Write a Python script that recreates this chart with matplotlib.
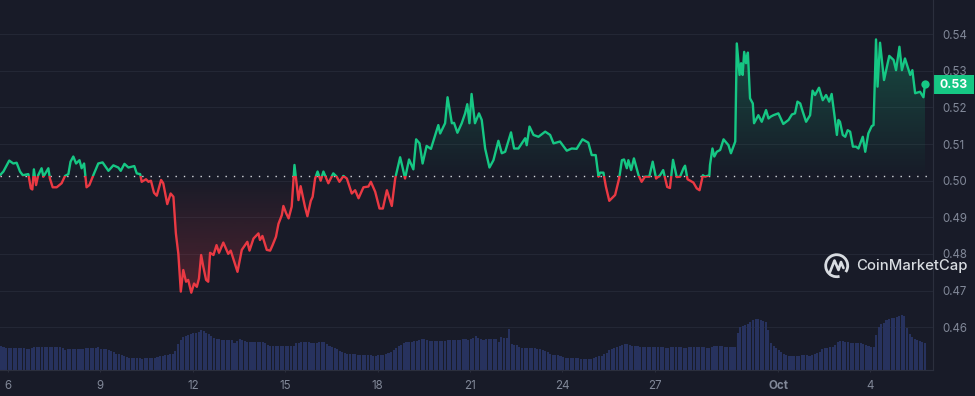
import numpy as np
import matplotlib
matplotlib.use("Agg")
import matplotlib.pyplot as plt
from matplotlib.patches import Rectangle, Arc

plt.rcParams['font.family'] = ['Inter', 'DejaVu Sans']

# ---------- data (day of the month counted from 1 Sep; 31 = 1 Oct) ----------
price_days = [
 5.74,5.85,6.04,6.17,6.28,6.39,6.48,6.66,6.74,6.79,6.84,6.91,6.98,7.09,7.15,7.31,7.36,7.45,7.58,7.74,
 7.85,7.96,8.03,8.12,8.21,8.32,8.39,8.47,8.55,8.64,8.77,8.93,9.07,9.26,9.42,9.58,9.66,9.78,9.91,10.10,
 10.18,10.29,10.34,10.48,10.56,10.64,10.74,10.83,10.97,11.04,11.17,11.28,11.37,11.45,11.53,11.61,11.69,11.78,11.85,11.95,
 12.04,12.13,12.20,12.27,12.34,12.43,12.50,12.56,12.67,12.77,12.85,12.99,13.15,13.23,13.45,13.59,13.77,13.84,13.97,14.13,
 14.18,14.26,14.40,14.51,14.59,14.70,14.78,14.89,14.94,15.03,15.11,15.21,15.30,15.43,15.50,15.64,15.72,15.83,15.89,15.97,
 16.05,16.15,16.24,16.40,
 16.56,16.67,16.76,16.89,17.00,17.16,17.27,17.38,17.54,17.70,17.78,17.92,18.06,18.17,18.30,18.46,18.57,18.73,18.81,18.89,
 19.02,19.16,19.25,19.36,19.46,19.59,19.73,19.97,20.03,20.19,20.27,20.41,20.48,20.59,20.73,20.84,20.91,20.98,21.05,21.16,
 21.29,21.38,21.49,21.63,21.76,21.92,22.03,22.14,22.33,22.43,22.57,22.79,22.84,22.93,23.06,23.22,23.44,23.60,23.71,23.92,
 24.14,24.30,24.46,24.65,24.84,24.95,25.08,25.17,25.22,25.33,25.41,25.52,25.71,25.84,25.93,26.00,26.09,26.14,26.23,26.32,
 26.47,26.57,26.68,26.82,26.93,27.04,27.17,27.27,27.40,27.49,27.59,27.71,
 27.82,27.93,27.98,28.06,28.25,28.36,28.45,28.56,28.63,28.77,28.79,28.87,28.93,29.01,29.12,29.23,29.39,29.47,29.61,29.66,
 29.75,29.80,29.85,29.90,29.96,30.02,30.09,30.18,30.22,30.36,30.47,30.61,30.69,30.76,30.85,31.01,31.17,31.34,31.45,31.55,
 31.63,31.72,31.80,31.91,32.04,32.12,32.20,32.33,32.45,32.56,32.66,32.74,32.83,32.91,32.96,33.01,33.10,33.18,33.26,33.34,
 33.43,33.53,33.61,33.75,33.83,33.93,34.04,34.10,34.18,34.23,34.31,34.44,34.51,34.61,34.75,34.83,34.94,35.02,35.12,35.29,
 35.36,35.45,35.61,35.72,35.77]
price_values = [
 .5015,.5025,.5055,.5047,.5049,.5025,.5015,.5018,.4979,.4976,.5031,.4988,.5015,.5034,.5011,.5034,.5006,.4982,.4982,.4993,
 .5013,.5018,.5052,.5066,.5047,.5056,.5034,.5047,.4982,.4988,.5015,.5047,.5050,.5027,.5042,.5036,.5027,.5046,.5036,.5040,
 .5020,.5018,.4997,.5004,.4997,.5000,.4967,.4959,.5002,.4993,.4936,.4965,.4956,.4856,.4800,.4697,.4756,.4724,.4729,.4694,
 .4719,.4710,.4733,.4797,.4765,.4729,.4724,.4803,.4797,.4824,.4803,.4831,.4800,.4809,.4751,.4811,.4833,.4809,.4842,.4856,
 .4838,.4849,.4811,.4809,.4824,.4847,.4882,.4906,.4931,.4911,.4897,.4929,.5043,.4947,.4985,.4929,.4903,.4945,.4956,.5006,
 .5025,.5000,.5025,.4993,
 .5020,.5011,.4997,.5013,.5006,.4965,.4974,.4952,.4982,.4984,.4997,.4970,.4924,.4924,.4974,.4931,.5006,.5064,.5036,.5006,
 .5058,.5031,.5113,.5102,.5047,.5095,.5087,.5152,.5129,.5157,.5228,.5157,.5158,.5131,.5157,.5184,.5209,.5157,.5237,.5157,
 .5184,.5166,.5088,.5036,.5056,.5109,.5075,.5079,.5132,.5088,.5088,.5116,.5097,.5148,.5125,.5120,.5134,.5125,.5102,.5107,
 .5082,.5088,.5087,.5113,.5104,.5070,.5070,.5011,.5022,.5022,.4984,.4945,.4961,.5006,.5056,.5058,.5034,.5056,.5029,.5061,
 .5015,.4997,.5011,.5011,.5052,.5006,.5015,.5029,.4983,.4980,.5057,.5010,
 .5011,.5034,.5041,.5004,.4995,.4979,.4974,.5015,.5011,.5015,.5043,.5088,.5066,.5079,.5084,.5113,.5097,.5075,.5107,.5375,
 .5289,.5321,.5289,.5352,.5321,.5350,.5225,.5211,.5157,.5179,.5161,.5193,.5170,.5175,.5179,.5184,.5155,.5166,.5181,.5184,
 .5216,.5211,.5189,.5161,.5179,.5246,.5234,.5254,.5220,.5234,.5216,.5237,.5179,.5125,.5166,.5161,.5125,.5120,.5138,.5134,
 .5093,.5093,.5088,.5120,.5079,.5129,.5149,.5152,.5386,.5257,.5377,.5275,.5302,.5341,.5330,.5302,.5366,.5302,.5334,.5289,
 .5302,.5239,.5243,.5228,.5264]
baseline_price = 0.5013

volume_part1 = [
 24.3,23.5,22.3,22.3,22.5,22.3,22.3,22.5,22.3,21.8,21.5,21.5,
 22,23.3,23.3,23.3,23.3,23.3,23.3,23.3,23.3,23.3,23.3,23.3,
 22.3,20.5,20.8,21.3,21.3,21.3,21.3,21.3,21.3,22.3,22.3,22.3,
 22.3,22.3,23,21.3,21.3,21,20.3,19.5,18.5,16.5,16,15,
 14.5,13.5,12.5,12.5,12.3,12,11.7,11.5,12,12,12.2,12.2,
 12.2,13,14,14.5,15,15,16,16.5,19,26,30,33,
 34,35,36.5,37,37.3,37.8,40,39,37.5,36,34,32.5,
 31.5,31,30.3,30,30,30,29.7,27.5,29,31,30,28.7,
 28.5,28.3,28,27.8,27.7,27.7,28,27.3,25,24,23.7,23.7,
 23.7,24.2,23.7,23.7,23.7,23.7,24,27,27.5,28,28.3,28.3,
 28,27.5,27.5,27.3,27.7,28.3,28.3,26.5,24,23,22,21,
 19.3,18.5,17.5,16.3,16,16,15.7,15.5,15.5,15.5,15.3,15.3,
 14.7,14.3,14.3,15,15,15.5,16,17,18,20,22,24,
 25.5,27,27.7,28,28.5,29,29.5,30,31,31,30.5,29.5,
 29.3,29.3,29.3,29.3,29.3,29.3,30,30.3,30.5,30.5,30.5,30.5,
 31,31,30.5,31.5,32.5,33.7,32,31,30.5,30.8,31]
volume_part2 = [
 31,31,31,28.5,33.3,32.5,32.5,41,26,25.5,25,23.5,22,22,21.7,22,21.7,21.7,21.5,21.3,
 20,19,18,16.5,15.5,15,14.7,14,13,12.3,12,12,12,12,12,11,11,11,11,11,
 12,13,14,14.5,15.7,17.5,20,21,22,23,24,25,25.7,25.7,25,24.5,24.5,24.5,23,22.7,
 22.7,22.7,22.7,22.7,22.7,22.7,22.7,22.7,22.3,22.5,23,23,22.7,22.7,22.7,22.5,22.5,23,23.3,23.3,
 23.5,23.3,23.3,23,22.5,22,23,24,24,24,24,23.5,23,22.7,22.7,22.7,36.7,43,44,45,
 46,48.5,50.5,51,51,50.5,49,48,40,27,24.5,22,20,18.5,16.5,15.5,14.5,14,14,14,
 14.5,15,15,15,14,15,16.5,17.5,18.5,21,22,22.5,23,23.5,25,28.5,29,29,28,27.7,
 27.5,26.7,26.7,27,27,26.5,25.5,24,23.5,23,35,43,46,47.5,50,50.7,51.7,51.7,53,54.5,
 55,54,41.7,36,33,31,30,29.5,28.5,27.3]
volume_values = volume_part1 + volume_part2
volume_first_day = 5.77

x_tick_days = [6, 9, 12, 15, 18, 21, 24, 27, 31, 34]
x_tick_labels = ['6', '9', '12', '15', '18', '21', '24', '27', 'Oct', '4']
y_ticks = [0.46, 0.47, 0.48, 0.49, 0.50, 0.51, 0.52, 0.53, 0.54]
last_label = '0.53'

# ---------- style ----------
W, H = 975, 396
BG = '#181b28'; GRID = '#232735'; AXIS = '#2b2f3d'; TXT = '#818898'
GREEN = '#16c784'; RED = '#ea3943'; BAR = '#27325e'; MARK = '#d8dce1'
PX_R, PX_B = 933, 370

fig = plt.figure(figsize=(W/100, H/100), dpi=100, facecolor=BG)
pos = [0, 1 - PX_B/H, PX_R/W, PX_B/H]

axv = fig.add_axes(pos, facecolor=BG, zorder=1)
ax = fig.add_axes(pos, facecolor='none', zorder=2)
xlim = (5.740, 36.03)
ylim = (0.44828, 0.54937)
for a in (ax, axv):
    a.set_xlim(*xlim)
    for s in a.spines.values():
        s.set_visible(False)
axv.set_ylim(0, PX_B)
ax.set_ylim(*ylim)

for t in y_ticks:
    y = (t - ylim[0]) / (ylim[1] - ylim[0]) * PX_B
    axv.axhline(y, color=GRID, lw=0.8, zorder=0)

vol_x = volume_first_day + np.arange(len(volume_values)) / 12
axv.bar(vol_x, volume_values, width=1/12*0.8, color=BAR, zorder=2, linewidth=0)
axv.set_yticks([]); axv.set_xticks([])

days = np.array(price_days); vals = np.array(price_values)
poly = ax.fill_between(days, vals, baseline_price, color='none', linewidth=0)
grid_y = np.linspace(ylim[1], ylim[0], 400)
rgba = np.zeros((400, 1, 4))
g = matplotlib.colors.to_rgb(GREEN); r = matplotlib.colors.to_rgb(RED)
up = grid_y >= baseline_price
rgba[up, 0, :3] = g; rgba[~up, 0, :3] = r
rgba[up, 0, 3] = np.clip((grid_y[up] - baseline_price) / 0.037, 0, 1) * 0.28
rgba[~up, 0, 3] = np.clip((baseline_price - grid_y[~up]) / 0.031, 0, 1) * 0.25
im = ax.imshow(rgba, extent=(*xlim, *ylim), aspect='auto', origin='upper',
               interpolation='bilinear', zorder=1)
im.set_clip_path(poly.get_paths()[0], transform=ax.transData)
ax.set_xlim(*xlim); ax.set_ylim(*ylim)

ax.axhline(baseline_price, color='#d5d8de', lw=1.0, dashes=(1.0, 5.0), zorder=3)

for col, lo, hi in ((GREEN, baseline_price, ylim[1]), (RED, ylim[0], baseline_price)):
    ln, = ax.plot(days, vals, color=col, lw=1.7, solid_joinstyle='round', zorder=4)
    ln.set_clip_path(Rectangle((xlim[0], lo), xlim[1]-xlim[0], hi-lo, transform=ax.transData))
ax.plot(days[-1], vals[-1], 'o', ms=6.0, color=GREEN, mec='none', zorder=5, clip_on=False)

ax.yaxis.tick_right()
ax.set_yticks(y_ticks)
ax.set_yticklabels([f'{t:.2f}' for t in y_ticks], fontsize=8.3, color=TXT)
ax.tick_params(axis='y', length=0, pad=6.5)
ax.set_xticks(x_tick_days)
ax.set_xticklabels(x_tick_labels, fontsize=8.3, color=TXT)
ax.tick_params(axis='x', length=1.6, width=0.7, color=AXIS, pad=5.5)
for lab in ax.get_xticklabels():
    if lab.get_text() == 'Oct':
        lab.set_fontweight('bold')

ov = fig.add_axes([0, 0, 1, 1], facecolor='none', zorder=6)
ov.set_xlim(0, W); ov.set_ylim(H, 0); ov.axis('off')
ov.plot([0, PX_R], [PX_B, PX_B], color=AXIS, lw=0.8)
ov.plot([PX_R, PX_R], [0, PX_B], color=AXIS, lw=0.8)
ov.add_patch(Rectangle((933, 75), 41, 19, color=GREEN, lw=0))
ov.text(953.5, 85, last_label, color='white', fontsize=8.8, fontweight='bold', ha='center', va='center')
ov.add_patch(Arc((836.7, 265.7), 22, 22, theta1=75, theta2=395, color=MARK, lw=2.0))
ov.plot([830, 834.5, 838.5, 841, 843.5], [272, 260.5, 270, 262, 268], color=MARK, lw=1.9,
        solid_joinstyle='round', solid_capstyle='round')
ov.text(856, 266, 'CoinMarketCap', color=MARK, fontsize=10.7, fontweight='medium', ha='left', va='center')

fig.savefig('out.png', dpi=100, facecolor=BG)
